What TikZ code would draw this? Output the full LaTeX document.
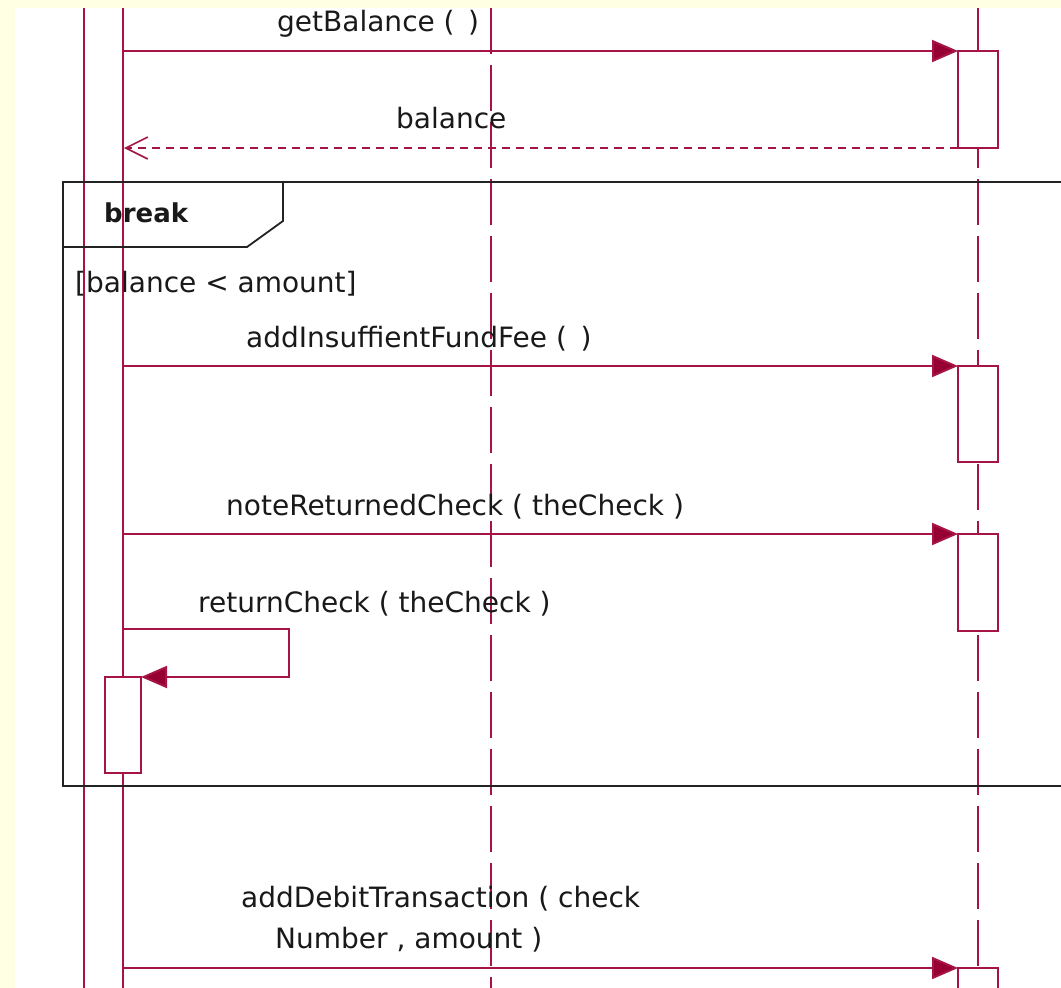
\documentclass[tikz,border=0pt]{standalone}
\usepackage{fontspec}
\setmainfont{DejaVu Sans}
\usetikzlibrary{arrows.meta}
\definecolor{lc}{RGB}{165,20,68}
\definecolor{ah}{RGB}{150,0,50}
\definecolor{bgy}{RGB}{255,255,228}
\definecolor{fr}{RGB}{35,35,35}
\definecolor{txt}{RGB}{25,25,25}
\tikzset{
  life/.style={draw=lc, line width=2pt},
  dashlife/.style={draw=lc, line width=2pt, dash pattern=on 46pt off 11pt},
  actbox/.style={draw=lc, fill=white, line width=2pt, minimum width=40pt, inner sep=0pt, outer sep=0pt, anchor=north},
  msg/.style={draw=lc, line width=2pt, -{Triangle[length=26pt,width=22pt,fill=ah]}},
  ret/.style={draw=lc, line width=1.6pt, dash pattern=on 8pt off 6pt, -{Straight Barb[length=22pt,width=22pt,line width=1.6pt]}},
  lbl/.style={anchor=base west, inner sep=0pt, text=txt, font=\fontsize{28}{34}\selectfont},
  frameline/.style={draw=fr, line width=2.2pt},
}
\begin{document}
\begin{tikzpicture}[x=1pt,y=-1pt]
\useasboundingbox (0,0) rectangle (1061,988);
\fill[bgy] (0,0) rectangle (1061,988);
\fill[white] (15,8) rectangle (1061,988);

% lifelines
\coordinate (LAt) at (84,8);   \coordinate (LAb) at (84,988);
\coordinate (LBt) at (123,8);  \coordinate (LBb) at (123,988);
\coordinate (LCt) at (491,8);  \coordinate (LCb) at (491,988);
\coordinate (LDt) at (978,8);  \coordinate (LDb) at (978,988);
\draw[life] (LAt) -- (LAb);
\draw[life] (LBt) -- (LBb);
\draw[dashlife] (LCt) -- (LCb);
\draw[dashlife] (LDt) -- (LDb);

% combined fragment frame
\coordinate (Ftl) at (63,182);
\coordinate (Ftr) at (1065,182);
\coordinate (Fbl) at (63,786);
\coordinate (Fbr) at (1065,786);
\draw[frameline] (Ftr) -- (Ftl) -- (Fbl) -- (Fbr);
\coordinate (P1) at (283,182);
\coordinate (P2) at (283,221);
\coordinate (P3) at (247,247);
\coordinate (P4) at (64,247);
\draw[frameline, line width=1.8pt] (P1) -- (P2) -- (P3) -- (P4);
\node[anchor=base west, inner sep=0pt, text=txt, font=\fontsize{26}{32}\selectfont\bfseries] (brk) at (104,222) {break};
\node[lbl] (guard) at (75,292) {[balance < amount]};

% activation boxes
\node[actbox, minimum height=97pt] (a1) at (978,51) {};
\node[actbox, minimum height=96pt] (a2) at (978,366) {};
\node[actbox, minimum height=97pt] (a3) at (978,534) {};
\node[actbox, minimum height=40pt] (a4) at (978,968) {};
\node[actbox, minimum width=36pt, minimum height=96pt] (sa) at (123,677) {};

% messages
\coordinate (m1s) at (123,51);
\draw[msg] (m1s) -- (a1.north west);
\node[lbl] (l1) at (277,31) {getBalance (\, )};

\coordinate (r1e) at (124,148);
\draw[ret] (a1.south west) -- (r1e);
\node[lbl] (l2) at (396,128) {balance};

\coordinate (m2s) at (123,366);
\draw[msg] (m2s) -- (a2.north west);
\node[lbl] (l3) at (246,347) {addInsuffientFundFee (\, )};

\coordinate (m3s) at (123,534);
\draw[msg] (m3s) -- (a3.north west);
\node[lbl] (l4) at (226,515) {noteReturnedCheck ( theCheck )};

\coordinate (s1) at (123,629);
\coordinate (s2) at (289,629);
\coordinate (s3) at (289,677);
\draw[msg] (s1) -- (s2) -- (s3) -- (sa.north east);
\node[lbl] (l5) at (198,612) {returnCheck ( theCheck )};

\coordinate (m4s) at (123,968);
\draw[msg] (m4s) -- (a4.north west);
\node[lbl] (l6) at (241,907) {addDebitTransaction ( check};
\node[lbl] (l7) at (275,948) {Number , amount )};
\end{tikzpicture}
\end{document}
